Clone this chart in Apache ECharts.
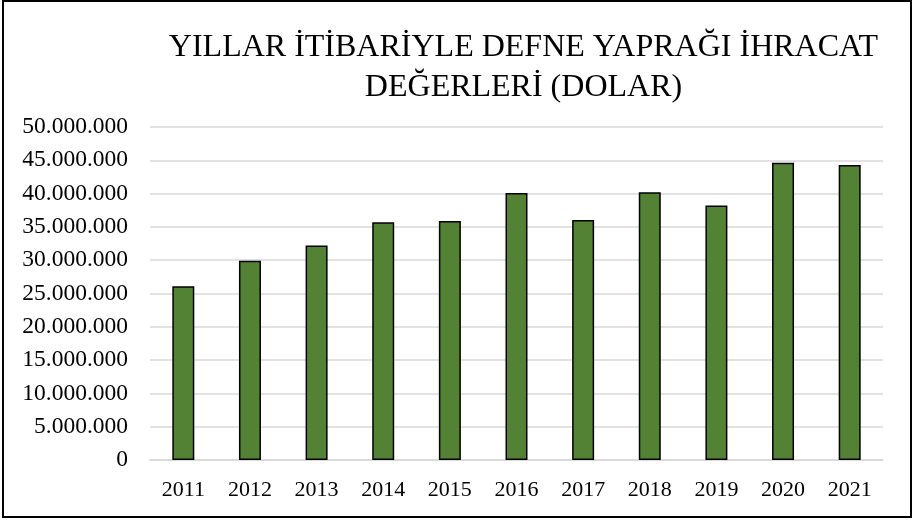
<!DOCTYPE html>
<html><head><meta charset="utf-8">
<script src="https://cdn.jsdelivr.net/npm/echarts@6/dist/echarts.min.js"></script>
<style>html,body{margin:0;padding:0;background:#fff}#c{width:919px;height:520px}</style>
</head><body><div id="c"></div>
<script>
const years = ['2011','2012','2013','2014','2015','2016','2017','2018','2019','2020','2021'];
const exportValues = [26100000, 29900000, 32200000, 35700000, 35900000, 40100000, 36050000, 40200000, 38200000, 44650000, 44300000];
const titleLines = ['YILLAR İTİBARİYLE DEFNE YAPRAĞI İHRACAT', 'DEĞERLERİ (DOLAR)'];

function fmt(v){ return String(v).replace(/\B(?=(\d{3})+(?!\d))/g, '.'); }

const chart = echarts.init(document.getElementById('c'), null, {renderer:'canvas'});
chart.setOption({
  animation:false,
  backgroundColor:'#fff',
  title:{
    text: titleLines.join('\n'),
    left: 518.5, top: 23, textAlign:'center',
    textStyle:{fontFamily:'Liberation Serif', fontWeight:'normal', fontSize:32, lineHeight:40, color:'#000'}
  },
  graphic:[{type:'rect', shape:{x:3, y:1, width:908, height:516}, style:{fill:null, stroke:'#000', lineWidth:2}, silent:true}],
  grid:{left:150, right:36, top:127, bottom:60},
  xAxis:{
    type:'category', data: years,
    axisLine:{lineStyle:{color:'#d9d9d9', width:1.5}},
    axisTick:{show:false},
    axisLabel:{fontFamily:'Liberation Serif', fontSize:22, color:'#000', margin:19}
  },
  yAxis:{
    type:'value', min:0, max:50000000, interval:5000000,
    axisLine:{show:false}, axisTick:{show:false},
    splitLine:{lineStyle:{color:'#d9d9d9', width:1.5}},
    axisLabel:{fontFamily:'Liberation Serif', fontSize:23.5, color:'#000', margin:22, formatter: fmt}
  },
  series:[{
    type:'bar', data: exportValues, barWidth:'33%',
    itemStyle:{color:'#548235', borderColor:'#000', borderWidth:1.5}
  }]
});
</script></body></html>
